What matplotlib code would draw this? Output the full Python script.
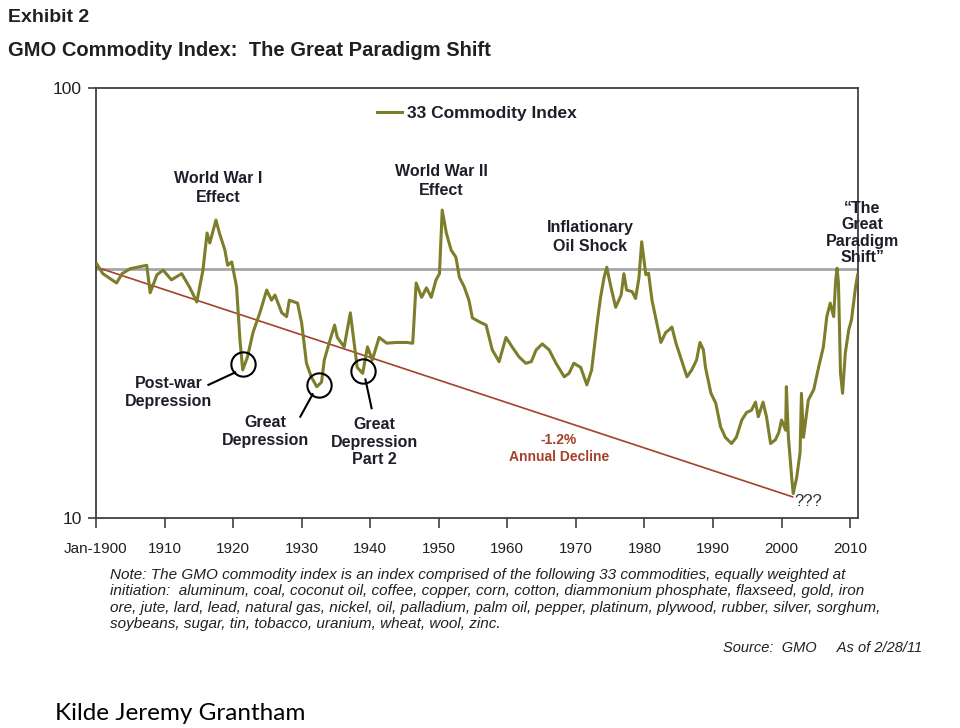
import numpy as np
import matplotlib
matplotlib.use("Agg")
import matplotlib.pyplot as plt
from matplotlib import font_manager


# ==========================================
# Data
# ==========================================

YEARS = [
    1900.1, 1901.0, 1903.0, 1903.8, 1905.0, 1907.4, 1907.9, 1908.9, 1909.8, 1911.0,
    1912.5, 1913.7, 1914.7, 1915.6, 1916.2, 1916.6, 1917.5, 1918.0, 1918.8, 1919.2,
    1919.8, 1920.5, 1921.0, 1921.4, 1922.1, 1922.9, 1923.9, 1924.9, 1925.6, 1926.1,
    1927.1, 1927.8, 1928.2, 1929.4, 1930.0, 1930.7, 1931.4, 1932.2, 1932.9, 1933.3,
    1934.0, 1934.8, 1935.2, 1936.2, 1937.1, 1937.6, 1938.1, 1938.9, 1939.6, 1940.3,
    1941.3, 1942.4, 1943.8, 1945.3, 1946.2, 1946.7, 1947.5, 1948.2, 1948.9, 1949.6,
    1950.1, 1950.5, 1951.1, 1951.8, 1952.5, 1953.0, 1953.7, 1954.4, 1954.9, 1955.9,
    1956.9, 1957.8, 1958.8, 1959.8, 1960.7, 1961.7, 1962.7, 1963.5, 1964.2, 1965.1,
    1966.1, 1967.1, 1968.3, 1969.0, 1969.7, 1970.7, 1971.6, 1972.3, 1973.1, 1973.6,
    1974.1, 1974.5, 1975.1, 1975.8, 1976.6, 1977.0, 1977.4, 1978.2, 1978.7, 1979.2,
    1979.6, 1980.2, 1980.6, 1981.1, 1981.7, 1982.4, 1983.1, 1983.6, 1984.0, 1984.6,
    1985.4, 1986.2, 1986.9, 1987.6, 1988.1, 1988.6, 1988.9, 1989.7, 1990.4, 1991.1,
    1991.8, 1992.7, 1993.4, 1994.2, 1994.9, 1995.6, 1996.2, 1996.6, 1997.3, 1997.8,
    1998.4, 1999.1, 1999.6, 2000.0, 2000.6, 2000.7, 2001.0, 2001.5, 2001.7, 2002.2,
    2002.7, 2002.9, 2003.2, 2003.9, 2004.7, 2005.4, 2006.1, 2006.6, 2007.1, 2007.6,
    2007.9, 2008.1, 2008.3, 2008.6, 2008.9, 2009.3, 2009.8, 2010.2, 2010.8, 2011.1,
]

INDEX = [
    39.0, 37.0, 35.2, 37.0, 38.0, 38.7, 33.4, 36.8, 37.7, 35.8,
    37.0, 34.3, 31.8, 37.7, 46.0, 43.6, 49.3, 46.0, 42.0, 38.7,
    39.4, 34.5, 25.9, 22.1, 23.7, 27.0, 30.0, 33.9, 32.1, 33.0,
    30.0, 29.4, 32.1, 31.6, 28.4, 22.9, 21.3, 20.2, 20.7, 23.3,
    25.5, 28.1, 26.3, 25.0, 30.0, 25.9, 22.4, 21.7, 25.0, 23.3,
    26.3, 25.5, 25.6, 25.6, 25.5, 35.2, 32.6, 34.3, 32.6, 35.8,
    37.0, 52.0, 46.0, 42.0, 40.4, 36.3, 34.5, 32.1, 29.2, 28.6,
    28.1, 24.6, 23.1, 26.3, 25.0, 23.7, 22.9, 23.1, 24.6, 25.4,
    24.6, 22.9, 21.3, 21.7, 22.9, 22.4, 20.4, 22.1, 28.4, 32.6,
    36.2, 38.3, 34.5, 30.9, 33.0, 37.0, 33.9, 33.6, 32.4, 36.2,
    43.9, 36.8, 37.1, 32.1, 28.9, 25.6, 27.0, 27.4, 27.8, 25.5,
    23.3, 21.3, 22.1, 23.3, 25.6, 24.6, 22.4, 19.5, 18.5, 16.3,
    15.4, 14.9, 15.4, 16.9, 17.6, 17.8, 18.6, 17.2, 18.6, 17.2,
    14.9, 15.2, 15.8, 16.9, 16.0, 20.2, 15.4, 12.3, 11.4, 12.4,
    14.2, 19.5, 15.4, 18.8, 19.9, 22.4, 25.0, 29.4, 31.6, 29.4,
    35.8, 38.1, 35.2, 21.7, 19.5, 24.2, 27.4, 28.9, 34.5, 36.8,
]

TREND_YEARS = [1900.1, 2001.6]
TREND_VALUES = [38.3, 11.2]

REFERENCE_LEVEL = 38.0

X_TICKS = [1900, 1910, 1920, 1930, 1940, 1950, 1960, 1970, 1980, 1990, 2000, 2010]
X_TICK_LABELS = ["Jan-1900", "1910", "1920", "1930", "1940", "1950",
                 "1960", "1970", "1980", "1990", "2000", "2010"]
Y_TICKS = [10, 100]
Y_TICK_LABELS = ["10", "100"]

# trough circles: (year, value)
CIRCLES = [(1921.4, 22.8), (1932.5, 20.4), (1938.9, 22.0)]

NOTE_LINES = [
    "Note: The GMO commodity index is an index comprised of the following 33 commodities, equally weighted at",
    "initiation:  aluminum, coal, coconut oil, coffee, copper, corn, cotton, diammonium phosphate, flaxseed, gold, iron",
    "ore, jute, lard, lead, natural gas, nickel, oil, palladium, palm oil, pepper, platinum, plywood, rubber, silver, sorghum,",
    "soybeans, sugar, tin, tobacco, uranium, wheat, wool, zinc.",
]


# ==========================================
# Fonts
# ==========================================

installed = {f.name for f in font_manager.fontManager.ttflist}
NARROW = "Liberation Sans Narrow" if "Liberation Sans Narrow" in installed else "Liberation Sans"
SANS = "Liberation Sans"

OLIVE = "#7d7d2c"
TREND_RED = "#a5402a"
TEXT_DARK = "#1e1e2a"


# ==========================================
# Plot
# ==========================================

fig = plt.figure(figsize=(9.6, 7.28), dpi=100)
ax = fig.add_axes([96 / 960, 1 - 518 / 728, (858 - 96) / 960, (518 - 88) / 728])

ax.set_yscale("log")
ax.set_xlim(1900, 2011.15)
ax.set_ylim(10, 100)

ax.axhline(REFERENCE_LEVEL, color="#a6a6a6", lw=2.0, zorder=1)
ax.plot(TREND_YEARS, TREND_VALUES, color=TREND_RED, lw=1.2, zorder=2)
ax.plot(YEARS, INDEX, color=OLIVE, lw=2.2, zorder=3, label="33 Commodity Index")

for cx, cy in CIRCLES:
    ax.plot(cx, cy, marker="o", ms=17.5, mfc="none", mec="black", mew=1.5, zorder=4)

# ticks
ax.set_xticks(X_TICKS)
ax.set_xticklabels(X_TICK_LABELS, family=NARROW, fontsize=11, color="#202020")
ax.get_xticklabels()[0].set_x(1898)
ax.set_yticks(Y_TICKS)
ax.set_yticklabels(Y_TICK_LABELS, family=NARROW, fontsize=12.5, color="#202020")
ax.yaxis.set_minor_locator(matplotlib.ticker.NullLocator())
ax.tick_params(axis="x", direction="out", length=7, width=1.2, pad=10, color="#404040")
ax.tick_params(axis="y", direction="out", length=6, width=1.2, pad=4, color="#404040")
for side in ["left", "bottom", "top", "right"]:
    ax.spines[side].set_color("#404040")
    ax.spines[side].set_linewidth(1.3)

leg = ax.legend(loc="upper center", bbox_to_anchor=(0.5, 0.995), frameon=False,
                handlelength=1.4, handletextpad=0.3,
                prop={"family": SANS, "weight": "bold", "size": 12.5})
for t in leg.get_texts():
    t.set_color(TEXT_DARK)

# annotations
ann = dict(ha="center", va="center", family=SANS, weight="bold", fontsize=11.5,
           color=TEXT_DARK, linespacing=1.3)
ax.text(1917.8, 58.5, "World War I\nEffect", **ann)
ax.text(1950.4, 60.8, "World War II\nEffect", **ann)
ax.text(1972.1, 45.0, "Inflationary\nOil Shock", **ann)
ax.text(2011.8, 46.0, "\u201cThe\nGreat\nParadigm\nShift\u201d", clip_on=False,
        **{**ann, "linespacing": 1.1})
ax.text(1910.6, 19.6, "Post-war\nDepression", **ann)
ax.text(1924.7, 15.9, "Great\nDepression", **ann)
ax.text(1940.6, 15.0, "Great\nDepression\nPart 2", **{**ann, "linespacing": 1.2})

ax.plot([1920.3, 1916.4], [21.8, 20.4], color="black", lw=1.5, zorder=4)
ax.plot([1931.6, 1929.8], [19.4, 17.2], color="black", lw=1.5, zorder=4)
ax.plot([1939.3, 1940.2], [21.0, 18.0], color="black", lw=1.5, zorder=4)

ax.text(1967.5, 14.5, "-1.2%\nAnnual Decline", ha="center", va="center",
        family=SANS, weight="bold", fontsize=10, color=TREND_RED, linespacing=1.3)
ax.text(2001.9, 10.95, "???", ha="left", va="center", family=SANS, fontsize=12,
        color="#303030")

# titles and footer
fig.text(8 / 960, 1 - 18 / 728, "Exhibit 2", ha="left", va="center",
         family=SANS, weight="bold", fontsize=14, color="#202020")
fig.text(8 / 960, 1 - 50 / 728, "GMO Commodity Index:  The Great Paradigm Shift",
         ha="left", va="center", family=SANS, weight="bold", fontsize=14.5, color="#202020")

fig.text(110 / 960, 1 - 568 / 728, "\n".join(NOTE_LINES), ha="left", va="top",
         family=NARROW, style="italic", fontsize=11, color="#202020", linespacing=1.22)
fig.text(723 / 960, 1 - 648 / 728, "Source:  GMO     As of 2/28/11", ha="left", va="center",
         family=NARROW, style="italic", fontsize=10.5, color="#202020")

fig.text(55 / 960, 1 - 713 / 728, "Kilde Jeremy Grantham", ha="left", va="center",
         family="Lato", fontsize=17.5, color="black")

fig.savefig("out.png", dpi=100)
